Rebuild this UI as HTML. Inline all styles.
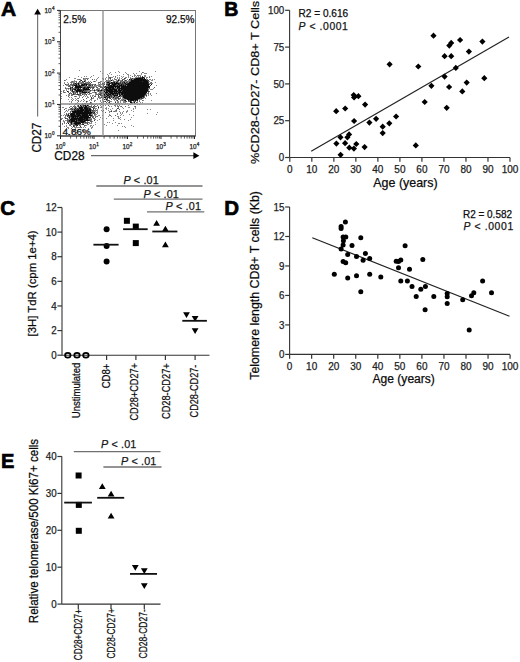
<!DOCTYPE html>
<html><head><meta charset="utf-8"><style>
html,body{margin:0;padding:0;background:#fff;overflow:hidden}
svg{display:block}
text{font-family:"Liberation Sans",sans-serif;stroke:#222;stroke-width:.25px}
text.lab{stroke:#000;stroke-width:.7px}
text.sm{stroke-width:.2px}
</style></head><body>
<svg width="520" height="662" viewBox="0 0 520 662" font-family="Liberation Sans, sans-serif">
<defs><filter id="bl" x="-5%" y="-5%" width="110%" height="110%"><feGaussianBlur stdDeviation="0.35"/></filter></defs>
<rect width="520" height="662" fill="#fff"/>
<text x="1.0" y="16.3" font-size="21" font-weight="bold" class="lab">A</text>
<text x="224.2" y="15.6" font-size="19.5" font-weight="bold" class="lab">B</text>
<text x="0.3" y="214.6" font-size="20.5" font-weight="bold" class="lab">C</text>
<text x="224.3" y="214.5" font-size="20.5" font-weight="bold" class="lab">D</text>
<text x="1.1" y="468.4" font-size="20" font-weight="bold" class="lab">E</text>
<path d="" fill="#d7d7d7" filter="url(#bl)"/>
<path d="" fill="#b0b0b0" filter="url(#bl)"/>
<path d="M79 70h1v1h-1zM100 71h1v1h-1zM118 71h1v1h-1zM139 71h1v1h-1zM155 71h1v1h-1zM110 72h1v1h-1zM115 72h1v1h-1zM119 72h1v1h-1zM125 72h1v1h-1zM143 72h1v1h-1zM102 73h1v1h-1zM109 73h1v1h-1zM126 73h1v1h-1zM133 73h1v1h-1zM136 73h1v1h-1zM141 73h1v1h-1zM144 73h3v1h-3zM107 74h1v1h-1zM111 74h1v1h-1zM123 74h1v1h-1zM127 74h2v1h-2zM134 74h1v1h-1zM141 74h1v1h-1zM93 75h1v1h-1zM108 75h1v1h-1zM117 75h1v1h-1zM119 75h1v1h-1zM128 75h1v1h-1zM130 75h1v1h-1zM134 75h2v1h-2zM138 75h3v1h-3zM144 75h2v1h-2zM78 76h1v1h-1zM84 76h1v1h-1zM86 76h1v1h-1zM91 76h1v1h-1zM108 76h1v1h-1zM113 76h1v1h-1zM121 76h1v1h-1zM123 76h1v1h-1zM128 76h1v1h-1zM134 76h1v1h-1zM136 76h1v1h-1zM138 76h1v1h-1zM144 76h2v1h-2zM149 76h1v1h-1zM151 76h1v1h-1zM69 77h1v1h-1zM81 77h1v1h-1zM90 77h1v1h-1zM98 77h1v1h-1zM106 77h1v1h-1zM108 77h1v1h-1zM111 77h2v1h-2zM115 77h1v1h-1zM117 77h1v1h-1zM119 77h1v1h-1zM122 77h1v1h-1zM125 77h2v1h-2zM128 77h1v1h-1zM130 77h1v1h-1zM135 77h3v1h-3zM146 77h2v1h-2zM74 78h2v1h-2zM84 78h2v1h-2zM87 78h2v1h-2zM97 78h1v1h-1zM102 78h2v1h-2zM105 78h1v1h-1zM108 78h2v1h-2zM114 78h1v1h-1zM117 78h1v1h-1zM119 78h1v1h-1zM121 78h1v1h-1zM131 78h1v1h-1zM133 78h1v1h-1zM146 78h1v1h-1zM66 79h1v1h-1zM77 79h2v1h-2zM80 79h1v1h-1zM83 79h3v1h-3zM94 79h1v1h-1zM96 79h1v1h-1zM105 79h1v1h-1zM108 79h1v1h-1zM110 79h1v1h-1zM112 79h1v1h-1zM114 79h1v1h-1zM116 79h1v1h-1zM119 79h1v1h-1zM124 79h1v1h-1zM127 79h1v1h-1zM132 79h1v1h-1zM146 79h1v1h-1zM149 79h2v1h-2zM152 79h1v1h-1zM154 79h1v1h-1zM65 80h1v1h-1zM74 80h1v1h-1zM84 80h1v1h-1zM96 80h1v1h-1zM107 80h4v1h-4zM112 80h2v1h-2zM116 80h2v1h-2zM119 80h3v1h-3zM124 80h1v1h-1zM128 80h2v1h-2zM151 80h2v1h-2zM71 81h1v1h-1zM73 81h3v1h-3zM80 81h1v1h-1zM83 81h1v1h-1zM85 81h1v1h-1zM88 81h1v1h-1zM90 81h1v1h-1zM93 81h1v1h-1zM95 81h1v1h-1zM100 81h2v1h-2zM105 81h3v1h-3zM110 81h1v1h-1zM115 81h2v1h-2zM118 81h1v1h-1zM122 81h1v1h-1zM125 81h2v1h-2zM128 81h1v1h-1zM149 81h1v1h-1zM64 82h1v1h-1zM67 82h1v1h-1zM70 82h1v1h-1zM72 82h3v1h-3zM78 82h4v1h-4zM85 82h2v1h-2zM88 82h1v1h-1zM100 82h1v1h-1zM110 82h1v1h-1zM115 82h1v1h-1zM118 82h2v1h-2zM121 82h1v1h-1zM125 82h1v1h-1zM128 82h1v1h-1zM150 82h1v1h-1zM155 82h1v1h-1zM64 83h1v1h-1zM68 83h1v1h-1zM71 83h1v1h-1zM79 83h2v1h-2zM82 83h1v1h-1zM87 83h1v1h-1zM89 83h1v1h-1zM98 83h1v1h-1zM100 83h1v1h-1zM104 83h1v1h-1zM106 83h1v1h-1zM149 83h1v1h-1zM151 83h2v1h-2zM66 84h2v1h-2zM72 84h1v1h-1zM77 84h1v1h-1zM79 84h1v1h-1zM91 84h1v1h-1zM93 84h2v1h-2zM98 84h1v1h-1zM100 84h2v1h-2zM63 85h1v1h-1zM66 85h3v1h-3zM70 85h2v1h-2zM91 85h1v1h-1zM95 85h6v1h-6zM106 85h1v1h-1zM126 85h1v1h-1zM156 85h1v1h-1zM70 86h1v1h-1zM72 86h2v1h-2zM83 86h1v1h-1zM86 86h1v1h-1zM90 86h7v1h-7zM98 86h1v1h-1zM101 86h1v1h-1zM104 86h1v1h-1zM65 87h1v1h-1zM74 87h1v1h-1zM94 87h1v1h-1zM103 87h1v1h-1zM114 87h1v1h-1zM116 87h1v1h-1zM120 87h1v1h-1zM66 88h2v1h-2zM69 88h1v1h-1zM71 88h1v1h-1zM79 88h1v1h-1zM82 88h1v1h-1zM97 88h3v1h-3zM148 88h1v1h-1zM153 88h1v1h-1zM66 89h1v1h-1zM68 89h1v1h-1zM71 89h1v1h-1zM76 89h1v1h-1zM92 89h1v1h-1zM94 89h1v1h-1zM98 89h2v1h-2zM103 89h1v1h-1zM117 89h1v1h-1zM150 89h3v1h-3zM63 90h2v1h-2zM66 90h1v1h-1zM71 90h1v1h-1zM74 90h1v1h-1zM88 90h2v1h-2zM91 90h3v1h-3zM95 90h2v1h-2zM148 90h1v1h-1zM61 91h1v1h-1zM71 91h1v1h-1zM75 91h1v1h-1zM87 91h2v1h-2zM90 91h1v1h-1zM94 91h1v1h-1zM97 91h1v1h-1zM99 91h1v1h-1zM101 91h1v1h-1zM103 91h1v1h-1zM105 91h1v1h-1zM63 92h1v1h-1zM65 92h1v1h-1zM70 92h1v1h-1zM72 92h1v1h-1zM74 92h1v1h-1zM87 92h1v1h-1zM92 92h3v1h-3zM96 92h1v1h-1zM99 92h1v1h-1zM101 92h2v1h-2zM104 92h1v1h-1zM108 92h1v1h-1zM61 93h1v1h-1zM70 93h1v1h-1zM74 93h1v1h-1zM79 93h1v1h-1zM81 93h3v1h-3zM87 93h1v1h-1zM91 93h1v1h-1zM95 93h2v1h-2zM98 93h2v1h-2zM102 93h1v1h-1zM104 93h1v1h-1zM146 93h2v1h-2zM150 93h1v1h-1zM156 93h1v1h-1zM68 94h2v1h-2zM71 94h1v1h-1zM75 94h1v1h-1zM83 94h3v1h-3zM88 94h2v1h-2zM95 94h1v1h-1zM98 94h1v1h-1zM101 94h1v1h-1zM105 94h1v1h-1zM118 94h1v1h-1zM146 94h1v1h-1zM148 94h1v1h-1zM150 94h1v1h-1zM66 95h1v1h-1zM68 95h2v1h-2zM72 95h1v1h-1zM78 95h2v1h-2zM81 95h1v1h-1zM84 95h1v1h-1zM86 95h1v1h-1zM90 95h1v1h-1zM92 95h2v1h-2zM95 95h1v1h-1zM103 95h1v1h-1zM106 95h1v1h-1zM112 95h1v1h-1zM121 95h1v1h-1zM145 95h1v1h-1zM148 95h1v1h-1zM151 95h1v1h-1zM61 96h1v1h-1zM74 96h1v1h-1zM76 96h1v1h-1zM79 96h1v1h-1zM83 96h1v1h-1zM85 96h1v1h-1zM87 96h1v1h-1zM90 96h1v1h-1zM92 96h1v1h-1zM99 96h1v1h-1zM101 96h3v1h-3zM112 96h2v1h-2zM115 96h1v1h-1zM117 96h1v1h-1zM120 96h1v1h-1zM146 96h1v1h-1zM69 97h1v1h-1zM71 97h1v1h-1zM79 97h1v1h-1zM87 97h2v1h-2zM93 97h1v1h-1zM99 97h2v1h-2zM102 97h2v1h-2zM106 97h1v1h-1zM110 97h1v1h-1zM112 97h1v1h-1zM114 97h1v1h-1zM120 97h1v1h-1zM122 97h1v1h-1zM61 98h1v1h-1zM72 98h1v1h-1zM75 98h1v1h-1zM77 98h1v1h-1zM92 98h2v1h-2zM97 98h1v1h-1zM99 98h2v1h-2zM102 98h2v1h-2zM106 98h1v1h-1zM112 98h3v1h-3zM117 98h1v1h-1zM122 98h2v1h-2zM143 98h1v1h-1zM145 98h1v1h-1zM68 99h1v1h-1zM71 99h1v1h-1zM73 99h1v1h-1zM76 99h1v1h-1zM90 99h2v1h-2zM97 99h1v1h-1zM102 99h1v1h-1zM105 99h1v1h-1zM113 99h4v1h-4zM119 99h1v1h-1zM121 99h2v1h-2zM124 99h3v1h-3zM138 99h4v1h-4zM75 100h1v1h-1zM77 100h2v1h-2zM81 100h1v1h-1zM84 100h1v1h-1zM89 100h1v1h-1zM91 100h1v1h-1zM94 100h2v1h-2zM100 100h1v1h-1zM102 100h1v1h-1zM106 100h1v1h-1zM114 100h1v1h-1zM116 100h1v1h-1zM120 100h2v1h-2zM123 100h1v1h-1zM139 100h1v1h-1zM143 100h1v1h-1zM151 100h1v1h-1zM69 101h1v1h-1zM71 101h1v1h-1zM80 101h1v1h-1zM83 101h1v1h-1zM87 101h1v1h-1zM100 101h1v1h-1zM104 101h1v1h-1zM107 101h1v1h-1zM110 101h2v1h-2zM115 101h1v1h-1zM117 101h2v1h-2zM120 101h1v1h-1zM123 101h2v1h-2zM133 101h1v1h-1zM137 101h1v1h-1zM71 102h1v1h-1zM77 102h1v1h-1zM86 102h1v1h-1zM91 102h1v1h-1zM101 102h1v1h-1zM103 102h1v1h-1zM108 102h1v1h-1zM117 102h2v1h-2zM120 102h1v1h-1zM123 102h3v1h-3zM132 102h2v1h-2zM137 102h1v1h-1zM140 102h1v1h-1zM142 102h1v1h-1zM75 103h2v1h-2zM78 103h1v1h-1zM88 103h1v1h-1zM92 103h1v1h-1zM96 103h1v1h-1zM99 103h2v1h-2zM102 103h2v1h-2zM107 103h1v1h-1zM109 103h1v1h-1zM111 103h1v1h-1zM113 103h1v1h-1zM116 103h4v1h-4zM121 103h1v1h-1zM125 103h1v1h-1zM127 103h1v1h-1zM132 103h1v1h-1zM134 103h2v1h-2zM69 104h1v1h-1zM75 104h1v1h-1zM79 104h1v1h-1zM81 104h1v1h-1zM85 104h1v1h-1zM87 104h7v1h-7zM110 104h1v1h-1zM112 104h1v1h-1zM115 104h2v1h-2zM119 104h1v1h-1zM122 104h1v1h-1zM124 104h1v1h-1zM129 104h2v1h-2zM137 104h1v1h-1zM74 105h1v1h-1zM77 105h1v1h-1zM81 105h2v1h-2zM86 105h1v1h-1zM91 105h1v1h-1zM100 105h1v1h-1zM103 105h1v1h-1zM105 105h1v1h-1zM114 105h2v1h-2zM117 105h1v1h-1zM119 105h1v1h-1zM128 105h1v1h-1zM70 106h2v1h-2zM74 106h1v1h-1zM77 106h1v1h-1zM79 106h1v1h-1zM82 106h1v1h-1zM84 106h1v1h-1zM87 106h1v1h-1zM94 106h1v1h-1zM96 106h1v1h-1zM98 106h1v1h-1zM101 106h1v1h-1zM109 106h1v1h-1zM111 106h1v1h-1zM115 106h1v1h-1zM117 106h1v1h-1zM120 106h1v1h-1zM134 106h1v1h-1zM62 107h2v1h-2zM76 107h1v1h-1zM78 107h1v1h-1zM89 107h3v1h-3zM93 107h1v1h-1zM100 107h2v1h-2zM106 107h1v1h-1zM118 107h1v1h-1zM122 107h1v1h-1zM128 107h2v1h-2zM135 107h1v1h-1zM65 108h2v1h-2zM70 108h1v1h-1zM72 108h3v1h-3zM76 108h1v1h-1zM83 108h1v1h-1zM94 108h3v1h-3zM98 108h1v1h-1zM105 108h2v1h-2zM108 108h1v1h-1zM112 108h1v1h-1zM123 108h1v1h-1zM133 108h1v1h-1zM135 108h1v1h-1zM68 109h2v1h-2zM73 109h1v1h-1zM91 109h1v1h-1zM95 109h1v1h-1zM97 109h1v1h-1zM106 109h1v1h-1zM110 109h1v1h-1zM116 109h1v1h-1zM133 109h1v1h-1zM147 109h1v1h-1zM150 109h1v1h-1zM68 110h1v1h-1zM71 110h3v1h-3zM95 110h1v1h-1zM97 110h1v1h-1zM101 110h1v1h-1zM108 110h1v1h-1zM111 110h1v1h-1zM115 110h1v1h-1zM127 110h1v1h-1zM131 110h1v1h-1zM65 111h1v1h-1zM67 111h1v1h-1zM71 111h1v1h-1zM91 111h1v1h-1zM94 111h2v1h-2zM97 111h1v1h-1zM109 111h2v1h-2zM113 111h1v1h-1zM115 111h2v1h-2zM119 111h1v1h-1zM123 111h1v1h-1zM126 111h2v1h-2zM133 111h1v1h-1zM64 112h1v1h-1zM96 112h2v1h-2zM109 112h1v1h-1zM120 112h1v1h-1zM122 112h1v1h-1zM126 112h1v1h-1zM157 112h1v1h-1zM69 113h1v1h-1zM92 113h1v1h-1zM95 113h1v1h-1zM97 113h1v1h-1zM117 113h1v1h-1zM120 113h1v1h-1zM122 113h1v1h-1zM147 113h1v1h-1zM64 114h1v1h-1zM67 114h1v1h-1zM88 114h1v1h-1zM91 114h2v1h-2zM95 114h2v1h-2zM109 114h1v1h-1zM117 114h1v1h-1zM121 114h1v1h-1zM129 114h1v1h-1zM156 114h1v1h-1zM61 115h1v1h-1zM63 115h1v1h-1zM66 115h1v1h-1zM94 115h2v1h-2zM98 115h2v1h-2zM102 115h1v1h-1zM109 115h1v1h-1zM120 115h1v1h-1zM123 115h1v1h-1zM133 115h1v1h-1zM65 116h1v1h-1zM68 116h1v1h-1zM91 116h1v1h-1zM95 116h2v1h-2zM108 116h1v1h-1zM111 116h1v1h-1zM117 116h2v1h-2zM64 117h2v1h-2zM68 117h1v1h-1zM70 117h1v1h-1zM93 117h1v1h-1zM100 117h1v1h-1zM118 117h1v1h-1zM120 117h1v1h-1zM131 117h1v1h-1zM61 118h2v1h-2zM70 118h1v1h-1zM90 118h2v1h-2zM102 118h1v1h-1zM106 118h1v1h-1zM113 118h1v1h-1zM118 118h2v1h-2zM68 119h2v1h-2zM94 119h2v1h-2zM99 119h1v1h-1zM120 119h1v1h-1zM124 119h1v1h-1zM130 119h1v1h-1zM63 120h1v1h-1zM65 120h2v1h-2zM91 120h1v1h-1zM97 120h1v1h-1zM113 120h1v1h-1zM128 120h1v1h-1zM63 121h2v1h-2zM87 121h1v1h-1zM92 121h1v1h-1zM68 122h2v1h-2zM73 122h1v1h-1zM89 122h1v1h-1zM91 122h1v1h-1zM95 122h1v1h-1zM107 122h1v1h-1zM109 122h1v1h-1zM115 122h1v1h-1zM64 123h1v1h-1zM70 123h1v1h-1zM72 123h1v1h-1zM83 123h4v1h-4zM89 123h3v1h-3zM112 123h1v1h-1zM118 123h2v1h-2zM121 123h1v1h-1zM62 124h1v1h-1zM69 124h2v1h-2zM72 124h2v1h-2zM80 124h2v1h-2zM87 124h2v1h-2zM95 124h1v1h-1zM104 124h1v1h-1zM66 125h1v1h-1zM69 125h1v1h-1zM75 125h1v1h-1zM80 125h1v1h-1zM86 125h1v1h-1zM90 125h2v1h-2zM93 125h1v1h-1zM106 125h1v1h-1zM117 125h1v1h-1zM131 125h1v1h-1zM64 126h1v1h-1zM66 126h1v1h-1zM71 126h1v1h-1zM84 126h1v1h-1zM90 126h1v1h-1zM92 126h1v1h-1zM122 126h1v1h-1zM124 126h1v1h-1zM133 126h1v1h-1zM67 127h2v1h-2zM72 127h1v1h-1zM74 127h7v1h-7zM83 127h1v1h-1zM85 127h1v1h-1zM91 127h2v1h-2zM125 127h1v1h-1zM68 128h1v1h-1zM75 128h1v1h-1zM88 128h1v1h-1zM91 128h1v1h-1zM72 129h1v1h-1zM74 129h2v1h-2zM78 129h1v1h-1zM72 130h3v1h-3zM77 130h1v1h-1zM82 130h2v1h-2zM86 130h1v1h-1zM118 130h1v1h-1zM71 131h1v1h-1zM77 131h1v1h-1zM83 131h1v1h-1zM88 131h1v1h-1zM76 132h1v1h-1zM72 133h1v1h-1zM68 134h1v1h-1zM76 134h1v1h-1z" fill="#888888" filter="url(#bl)"/>
<path d="M142 72h1v1h-1zM137 75h1v1h-1zM115 76h1v1h-1zM132 76h1v1h-1zM140 76h1v1h-1zM109 77h2v1h-2zM138 77h2v1h-2zM141 77h1v1h-1zM144 77h1v1h-1zM149 77h1v1h-1zM83 78h1v1h-1zM86 78h1v1h-1zM125 78h1v1h-1zM130 78h1v1h-1zM134 78h1v1h-1zM143 78h1v1h-1zM79 79h1v1h-1zM87 79h1v1h-1zM92 79h1v1h-1zM103 79h1v1h-1zM115 79h1v1h-1zM118 79h1v1h-1zM122 79h2v1h-2zM130 79h1v1h-1zM133 79h1v1h-1zM147 79h1v1h-1zM64 80h1v1h-1zM80 80h1v1h-1zM85 80h1v1h-1zM106 80h1v1h-1zM126 80h1v1h-1zM130 80h1v1h-1zM72 81h1v1h-1zM76 81h1v1h-1zM94 81h1v1h-1zM108 81h2v1h-2zM113 81h2v1h-2zM120 81h2v1h-2zM123 81h2v1h-2zM127 81h1v1h-1zM129 81h1v1h-1zM148 81h1v1h-1zM71 82h1v1h-1zM76 82h1v1h-1zM82 82h2v1h-2zM87 82h1v1h-1zM89 82h1v1h-1zM98 82h2v1h-2zM104 82h1v1h-1zM106 82h1v1h-1zM109 82h1v1h-1zM123 82h1v1h-1zM127 82h1v1h-1zM151 82h1v1h-1zM73 83h2v1h-2zM76 83h2v1h-2zM81 83h1v1h-1zM83 83h1v1h-1zM86 83h1v1h-1zM88 83h1v1h-1zM90 83h1v1h-1zM107 83h2v1h-2zM121 83h1v1h-1zM123 83h1v1h-1zM126 83h1v1h-1zM150 83h1v1h-1zM68 84h1v1h-1zM70 84h2v1h-2zM74 84h2v1h-2zM88 84h1v1h-1zM90 84h1v1h-1zM92 84h1v1h-1zM99 84h1v1h-1zM102 84h3v1h-3zM111 84h1v1h-1zM117 84h1v1h-1zM120 84h1v1h-1zM124 84h1v1h-1zM149 84h1v1h-1zM69 85h1v1h-1zM73 85h1v1h-1zM77 85h1v1h-1zM80 85h1v1h-1zM85 85h1v1h-1zM88 85h1v1h-1zM94 85h1v1h-1zM107 85h1v1h-1zM116 85h1v1h-1zM118 85h1v1h-1zM68 86h2v1h-2zM81 86h2v1h-2zM84 86h2v1h-2zM87 86h3v1h-3zM99 86h2v1h-2zM106 86h2v1h-2zM120 86h1v1h-1zM71 87h1v1h-1zM82 87h1v1h-1zM86 87h1v1h-1zM90 87h3v1h-3zM96 87h2v1h-2zM100 87h2v1h-2zM105 87h1v1h-1zM154 87h1v1h-1zM65 88h1v1h-1zM68 88h1v1h-1zM72 88h3v1h-3zM90 88h1v1h-1zM92 88h2v1h-2zM107 88h1v1h-1zM115 88h2v1h-2zM149 88h1v1h-1zM73 89h1v1h-1zM82 89h1v1h-1zM96 89h2v1h-2zM101 89h1v1h-1zM120 89h1v1h-1zM148 89h1v1h-1zM70 90h1v1h-1zM84 90h1v1h-1zM86 90h2v1h-2zM97 90h1v1h-1zM99 90h1v1h-1zM104 90h2v1h-2zM113 90h1v1h-1zM117 90h1v1h-1zM63 91h1v1h-1zM68 91h1v1h-1zM74 91h1v1h-1zM83 91h1v1h-1zM85 91h2v1h-2zM89 91h1v1h-1zM98 91h1v1h-1zM100 91h1v1h-1zM121 91h1v1h-1zM149 91h1v1h-1zM64 92h1v1h-1zM68 92h1v1h-1zM75 92h2v1h-2zM79 92h3v1h-3zM89 92h1v1h-1zM100 92h1v1h-1zM103 92h1v1h-1zM113 92h1v1h-1zM117 92h1v1h-1zM148 92h1v1h-1zM71 93h1v1h-1zM75 93h1v1h-1zM77 93h1v1h-1zM84 93h2v1h-2zM89 93h2v1h-2zM100 93h2v1h-2zM103 93h1v1h-1zM107 93h1v1h-1zM109 93h1v1h-1zM120 93h1v1h-1zM148 93h1v1h-1zM72 94h1v1h-1zM74 94h1v1h-1zM76 94h1v1h-1zM79 94h2v1h-2zM96 94h2v1h-2zM103 94h1v1h-1zM111 94h1v1h-1zM114 94h1v1h-1zM116 94h1v1h-1zM120 94h1v1h-1zM71 95h1v1h-1zM80 95h1v1h-1zM100 95h2v1h-2zM105 95h1v1h-1zM109 95h1v1h-1zM68 96h1v1h-1zM75 96h1v1h-1zM94 96h2v1h-2zM98 96h1v1h-1zM104 96h2v1h-2zM107 96h2v1h-2zM110 96h1v1h-1zM116 96h1v1h-1zM121 96h2v1h-2zM144 96h1v1h-1zM82 97h1v1h-1zM98 97h1v1h-1zM101 97h1v1h-1zM111 97h1v1h-1zM115 97h2v1h-2zM118 97h1v1h-1zM142 97h1v1h-1zM144 97h1v1h-1zM78 98h1v1h-1zM86 98h1v1h-1zM105 98h1v1h-1zM109 98h1v1h-1zM116 98h1v1h-1zM119 98h2v1h-2zM140 98h1v1h-1zM83 99h1v1h-1zM107 99h1v1h-1zM111 99h1v1h-1zM118 99h1v1h-1zM123 99h1v1h-1zM72 100h1v1h-1zM107 100h1v1h-1zM109 100h1v1h-1zM122 100h1v1h-1zM129 100h1v1h-1zM134 100h1v1h-1zM136 100h1v1h-1zM142 100h1v1h-1zM78 101h1v1h-1zM94 101h1v1h-1zM109 101h1v1h-1zM125 101h1v1h-1zM128 101h2v1h-2zM131 101h1v1h-1zM134 101h2v1h-2zM139 101h1v1h-1zM106 102h1v1h-1zM136 102h1v1h-1zM82 103h1v1h-1zM85 103h1v1h-1zM87 103h1v1h-1zM89 103h3v1h-3zM110 103h1v1h-1zM131 103h1v1h-1zM83 104h1v1h-1zM95 104h1v1h-1zM101 104h1v1h-1zM139 104h1v1h-1zM88 105h1v1h-1zM94 105h1v1h-1zM97 105h1v1h-1zM108 105h1v1h-1zM73 106h1v1h-1zM75 106h1v1h-1zM80 106h1v1h-1zM88 106h1v1h-1zM90 106h2v1h-2zM95 106h1v1h-1zM118 106h1v1h-1zM121 106h1v1h-1zM125 106h1v1h-1zM135 106h1v1h-1zM69 107h1v1h-1zM72 107h1v1h-1zM74 107h2v1h-2zM83 107h1v1h-1zM94 107h1v1h-1zM78 108h1v1h-1zM118 108h1v1h-1zM64 109h1v1h-1zM70 109h2v1h-2zM75 109h1v1h-1zM79 109h1v1h-1zM119 109h1v1h-1zM66 110h1v1h-1zM91 110h1v1h-1zM93 110h2v1h-2zM96 110h1v1h-1zM103 110h1v1h-1zM116 110h1v1h-1zM70 111h1v1h-1zM83 111h1v1h-1zM92 111h2v1h-2zM102 111h1v1h-1zM114 111h1v1h-1zM70 112h1v1h-1zM93 112h1v1h-1zM105 112h1v1h-1zM66 113h1v1h-1zM68 113h1v1h-1zM70 113h1v1h-1zM75 113h1v1h-1zM94 113h1v1h-1zM66 114h1v1h-1zM75 114h1v1h-1zM94 114h1v1h-1zM65 115h1v1h-1zM67 115h1v1h-1zM69 115h1v1h-1zM92 115h1v1h-1zM110 115h1v1h-1zM115 115h1v1h-1zM90 116h1v1h-1zM92 116h2v1h-2zM97 116h1v1h-1zM76 117h1v1h-1zM78 117h1v1h-1zM92 117h1v1h-1zM95 117h1v1h-1zM66 118h2v1h-2zM88 118h2v1h-2zM93 118h2v1h-2zM61 119h1v1h-1zM67 119h1v1h-1zM88 119h4v1h-4zM67 120h2v1h-2zM75 120h1v1h-1zM90 120h1v1h-1zM67 121h2v1h-2zM77 121h1v1h-1zM85 121h1v1h-1zM90 121h2v1h-2zM64 122h1v1h-1zM67 122h1v1h-1zM72 122h1v1h-1zM84 122h1v1h-1zM86 122h3v1h-3zM62 123h1v1h-1zM66 123h1v1h-1zM73 123h1v1h-1zM82 123h1v1h-1zM74 124h1v1h-1zM79 124h1v1h-1zM70 125h1v1h-1zM74 125h1v1h-1zM79 125h1v1h-1zM84 125h2v1h-2zM74 126h1v1h-1zM76 126h1v1h-1zM81 127h1v1h-1zM66 128h1v1h-1zM71 128h1v1h-1z" fill="#606060" filter="url(#bl)"/>
<path d="M142 76h1v1h-1zM140 77h1v1h-1zM110 78h1v1h-1zM124 78h1v1h-1zM132 78h1v1h-1zM135 78h1v1h-1zM122 80h1v1h-1zM125 80h1v1h-1zM147 80h2v1h-2zM79 81h1v1h-1zM82 81h1v1h-1zM117 81h1v1h-1zM130 81h1v1h-1zM142 81h1v1h-1zM91 82h1v1h-1zM112 82h2v1h-2zM117 82h1v1h-1zM120 82h1v1h-1zM122 82h1v1h-1zM126 82h1v1h-1zM148 82h1v1h-1zM84 83h2v1h-2zM103 83h1v1h-1zM110 83h2v1h-2zM113 83h1v1h-1zM119 83h2v1h-2zM122 83h1v1h-1zM124 83h1v1h-1zM127 83h1v1h-1zM148 83h1v1h-1zM65 84h1v1h-1zM73 84h1v1h-1zM81 84h1v1h-1zM83 84h1v1h-1zM85 84h1v1h-1zM87 84h1v1h-1zM89 84h1v1h-1zM95 84h1v1h-1zM106 84h2v1h-2zM116 84h1v1h-1zM119 84h1v1h-1zM122 84h2v1h-2zM125 84h1v1h-1zM72 85h1v1h-1zM78 85h1v1h-1zM84 85h1v1h-1zM89 85h2v1h-2zM92 85h1v1h-1zM109 85h1v1h-1zM112 85h1v1h-1zM115 85h1v1h-1zM122 85h1v1h-1zM124 85h1v1h-1zM150 85h1v1h-1zM108 86h1v1h-1zM70 87h1v1h-1zM83 87h1v1h-1zM85 87h1v1h-1zM93 87h1v1h-1zM104 87h1v1h-1zM149 87h1v1h-1zM75 88h3v1h-3zM80 88h1v1h-1zM85 88h1v1h-1zM87 88h1v1h-1zM105 88h1v1h-1zM111 88h1v1h-1zM114 88h1v1h-1zM118 88h1v1h-1zM70 89h1v1h-1zM72 89h1v1h-1zM80 89h2v1h-2zM102 89h1v1h-1zM104 89h2v1h-2zM108 89h1v1h-1zM75 90h1v1h-1zM82 90h1v1h-1zM85 90h1v1h-1zM90 90h1v1h-1zM100 90h1v1h-1zM122 90h1v1h-1zM72 91h2v1h-2zM78 91h1v1h-1zM81 91h1v1h-1zM84 91h1v1h-1zM107 91h1v1h-1zM118 91h1v1h-1zM147 91h2v1h-2zM73 92h1v1h-1zM77 92h1v1h-1zM95 92h1v1h-1zM115 92h1v1h-1zM69 93h1v1h-1zM73 93h1v1h-1zM80 93h1v1h-1zM105 93h2v1h-2zM118 93h1v1h-1zM73 94h1v1h-1zM77 94h2v1h-2zM82 94h1v1h-1zM86 94h1v1h-1zM99 94h2v1h-2zM107 94h2v1h-2zM115 94h1v1h-1zM123 94h1v1h-1zM145 94h1v1h-1zM98 95h1v1h-1zM102 95h1v1h-1zM104 95h1v1h-1zM110 95h2v1h-2zM113 95h1v1h-1zM119 95h1v1h-1zM122 95h1v1h-1zM144 95h1v1h-1zM146 95h1v1h-1zM111 96h1v1h-1zM118 96h1v1h-1zM91 97h1v1h-1zM107 97h2v1h-2zM117 97h1v1h-1zM143 97h1v1h-1zM91 98h1v1h-1zM107 98h1v1h-1zM110 98h1v1h-1zM115 98h1v1h-1zM118 98h1v1h-1zM124 98h1v1h-1zM141 98h2v1h-2zM104 99h1v1h-1zM108 100h1v1h-1zM117 100h1v1h-1zM124 100h1v1h-1zM86 101h1v1h-1zM103 101h1v1h-1zM105 101h1v1h-1zM126 101h1v1h-1zM90 102h1v1h-1zM109 102h1v1h-1zM115 102h1v1h-1zM84 103h1v1h-1zM82 104h1v1h-1zM78 105h1v1h-1zM83 105h2v1h-2zM78 106h1v1h-1zM83 106h1v1h-1zM89 106h1v1h-1zM93 106h1v1h-1zM87 107h2v1h-2zM92 107h1v1h-1zM71 108h1v1h-1zM77 108h1v1h-1zM88 108h1v1h-1zM90 108h1v1h-1zM93 108h1v1h-1zM117 108h1v1h-1zM72 109h1v1h-1zM76 109h2v1h-2zM84 109h1v1h-1zM88 109h1v1h-1zM93 109h1v1h-1zM74 110h1v1h-1zM76 110h1v1h-1zM84 110h1v1h-1zM92 110h1v1h-1zM89 111h1v1h-1zM111 111h1v1h-1zM72 112h1v1h-1zM92 112h1v1h-1zM91 113h1v1h-1zM93 113h1v1h-1zM68 114h1v1h-1zM80 114h2v1h-2zM90 114h1v1h-1zM70 115h1v1h-1zM76 115h1v1h-1zM81 115h1v1h-1zM88 115h1v1h-1zM67 116h1v1h-1zM69 116h2v1h-2zM79 116h1v1h-1zM71 117h1v1h-1zM74 117h1v1h-1zM90 117h1v1h-1zM65 118h1v1h-1zM69 118h1v1h-1zM83 118h1v1h-1zM77 119h1v1h-1zM85 119h1v1h-1zM70 120h1v1h-1zM77 120h1v1h-1zM83 120h1v1h-1zM89 120h1v1h-1zM94 120h1v1h-1zM69 121h2v1h-2zM78 121h2v1h-2zM70 122h1v1h-1zM74 122h1v1h-1zM80 122h1v1h-1zM85 122h1v1h-1zM87 123h1v1h-1zM71 124h1v1h-1zM77 124h2v1h-2zM82 124h1v1h-1zM73 125h1v1h-1zM76 125h1v1h-1zM73 126h1v1h-1zM80 126h1v1h-1z" fill="#393939" filter="url(#bl)"/>
<path d="M142 77h2v1h-2zM136 78h7v1h-7zM144 78h1v1h-1zM129 79h1v1h-1zM131 79h1v1h-1zM134 79h12v1h-12zM81 80h1v1h-1zM111 80h1v1h-1zM118 80h1v1h-1zM131 80h16v1h-16zM84 81h1v1h-1zM131 81h11v1h-11zM143 81h5v1h-5zM107 82h2v1h-2zM111 82h1v1h-1zM114 82h1v1h-1zM116 82h1v1h-1zM124 82h1v1h-1zM129 82h19v1h-19zM75 83h1v1h-1zM78 83h1v1h-1zM102 83h1v1h-1zM109 83h1v1h-1zM112 83h1v1h-1zM114 83h5v1h-5zM125 83h1v1h-1zM128 83h20v1h-20zM76 84h1v1h-1zM78 84h1v1h-1zM82 84h1v1h-1zM84 84h1v1h-1zM86 84h1v1h-1zM108 84h2v1h-2zM112 84h4v1h-4zM118 84h1v1h-1zM121 84h1v1h-1zM126 84h23v1h-23zM151 84h1v1h-1zM74 85h3v1h-3zM79 85h1v1h-1zM81 85h3v1h-3zM86 85h1v1h-1zM103 85h1v1h-1zM108 85h1v1h-1zM110 85h2v1h-2zM113 85h2v1h-2zM117 85h1v1h-1zM119 85h3v1h-3zM123 85h1v1h-1zM125 85h1v1h-1zM127 85h22v1h-22zM75 86h6v1h-6zM103 86h1v1h-1zM105 86h1v1h-1zM109 86h11v1h-11zM121 86h29v1h-29zM72 87h1v1h-1zM75 87h7v1h-7zM84 87h1v1h-1zM87 87h3v1h-3zM102 87h1v1h-1zM106 87h8v1h-8zM115 87h1v1h-1zM117 87h3v1h-3zM121 87h28v1h-28zM70 88h1v1h-1zM78 88h1v1h-1zM83 88h2v1h-2zM86 88h1v1h-1zM88 88h1v1h-1zM102 88h2v1h-2zM106 88h1v1h-1zM108 88h3v1h-3zM112 88h2v1h-2zM117 88h1v1h-1zM119 88h29v1h-29zM74 89h2v1h-2zM77 89h3v1h-3zM83 89h7v1h-7zM106 89h2v1h-2zM109 89h8v1h-8zM118 89h2v1h-2zM121 89h27v1h-27zM72 90h1v1h-1zM76 90h6v1h-6zM83 90h1v1h-1zM94 90h1v1h-1zM98 90h1v1h-1zM101 90h3v1h-3zM106 90h7v1h-7zM114 90h3v1h-3zM118 90h4v1h-4zM123 90h25v1h-25zM67 91h1v1h-1zM76 91h2v1h-2zM79 91h2v1h-2zM82 91h1v1h-1zM104 91h1v1h-1zM106 91h1v1h-1zM108 91h10v1h-10zM119 91h2v1h-2zM122 91h25v1h-25zM82 92h5v1h-5zM88 92h1v1h-1zM105 92h3v1h-3zM109 92h4v1h-4zM114 92h1v1h-1zM116 92h1v1h-1zM118 92h29v1h-29zM108 93h1v1h-1zM110 93h8v1h-8zM119 93h1v1h-1zM121 93h25v1h-25zM104 94h1v1h-1zM106 94h1v1h-1zM109 94h2v1h-2zM112 94h2v1h-2zM117 94h1v1h-1zM119 94h1v1h-1zM121 94h2v1h-2zM124 94h21v1h-21zM107 95h2v1h-2zM114 95h4v1h-4zM120 95h1v1h-1zM123 95h21v1h-21zM106 96h1v1h-1zM109 96h1v1h-1zM114 96h1v1h-1zM119 96h1v1h-1zM123 96h21v1h-21zM104 97h2v1h-2zM109 97h1v1h-1zM113 97h1v1h-1zM123 97h19v1h-19zM125 98h15v1h-15zM106 99h1v1h-1zM127 99h11v1h-11zM125 100h1v1h-1zM128 100h1v1h-1zM130 100h4v1h-4zM135 100h1v1h-1zM137 100h1v1h-1zM130 101h1v1h-1zM130 102h2v1h-2zM134 102h1v1h-1zM80 105h1v1h-1zM85 105h1v1h-1zM87 105h1v1h-1zM81 106h1v1h-1zM85 106h2v1h-2zM79 107h4v1h-4zM84 107h3v1h-3zM98 107h1v1h-1zM75 108h1v1h-1zM79 108h4v1h-4zM84 108h4v1h-4zM89 108h1v1h-1zM74 109h1v1h-1zM78 109h1v1h-1zM80 109h4v1h-4zM85 109h3v1h-3zM89 109h2v1h-2zM75 110h1v1h-1zM77 110h7v1h-7zM85 110h6v1h-6zM72 111h11v1h-11zM84 111h5v1h-5zM90 111h1v1h-1zM73 112h19v1h-19zM94 112h1v1h-1zM71 113h4v1h-4zM76 113h15v1h-15zM70 114h5v1h-5zM76 114h4v1h-4zM82 114h6v1h-6zM89 114h1v1h-1zM68 115h1v1h-1zM71 115h5v1h-5zM77 115h4v1h-4zM82 115h6v1h-6zM89 115h3v1h-3zM71 116h8v1h-8zM80 116h9v1h-9zM69 117h1v1h-1zM72 117h2v1h-2zM75 117h1v1h-1zM77 117h1v1h-1zM79 117h11v1h-11zM71 118h12v1h-12zM84 118h4v1h-4zM70 119h7v1h-7zM78 119h7v1h-7zM86 119h2v1h-2zM69 120h1v1h-1zM71 120h4v1h-4zM76 120h1v1h-1zM78 120h5v1h-5zM84 120h5v1h-5zM71 121h6v1h-6zM80 121h5v1h-5zM71 122h1v1h-1zM75 122h5v1h-5zM81 122h3v1h-3zM68 123h1v1h-1zM71 123h1v1h-1zM74 123h7v1h-7zM75 124h2v1h-2zM83 124h1v1h-1zM77 125h1v1h-1z" fill="#111111" filter="url(#bl)"/>
<rect x="60.5" y="10.5" width="135.0" height="125.5" fill="none" stroke="#777" stroke-width="1"/>
<line x1="60.50" y1="136.00" x2="195.50" y2="136.00" stroke="#222" stroke-width="1.2"/>
<line x1="60.50" y1="10.50" x2="60.50" y2="136.00" stroke="#444" stroke-width="1.0"/>
<line x1="103.00" y1="10.50" x2="103.00" y2="136.00" stroke="#8c8c8c" stroke-width="1.3"/>
<line x1="60.50" y1="104.00" x2="195.50" y2="104.00" stroke="#8c8c8c" stroke-width="1.3"/>
<line x1="60.50" y1="136.00" x2="60.50" y2="139.00" stroke="#222" stroke-width="1"/>
<line x1="57.00" y1="135.80" x2="60.50" y2="135.80" stroke="#222" stroke-width="1"/>
<line x1="70.58" y1="136.00" x2="70.58" y2="138.60" stroke="#333" stroke-width="0.8"/>
<line x1="58.50" y1="126.36" x2="60.50" y2="126.36" stroke="#333" stroke-width="0.8"/>
<line x1="76.48" y1="136.00" x2="76.48" y2="138.60" stroke="#333" stroke-width="0.8"/>
<line x1="58.50" y1="120.84" x2="60.50" y2="120.84" stroke="#333" stroke-width="0.8"/>
<line x1="80.67" y1="136.00" x2="80.67" y2="138.60" stroke="#333" stroke-width="0.8"/>
<line x1="58.50" y1="116.93" x2="60.50" y2="116.93" stroke="#333" stroke-width="0.8"/>
<line x1="83.92" y1="136.00" x2="83.92" y2="138.60" stroke="#333" stroke-width="0.8"/>
<line x1="58.50" y1="113.89" x2="60.50" y2="113.89" stroke="#333" stroke-width="0.8"/>
<line x1="86.57" y1="136.00" x2="86.57" y2="138.60" stroke="#333" stroke-width="0.8"/>
<line x1="58.50" y1="111.40" x2="60.50" y2="111.40" stroke="#333" stroke-width="0.8"/>
<line x1="88.81" y1="136.00" x2="88.81" y2="138.60" stroke="#333" stroke-width="0.8"/>
<line x1="58.50" y1="109.31" x2="60.50" y2="109.31" stroke="#333" stroke-width="0.8"/>
<line x1="90.75" y1="136.00" x2="90.75" y2="138.60" stroke="#333" stroke-width="0.8"/>
<line x1="58.50" y1="107.49" x2="60.50" y2="107.49" stroke="#333" stroke-width="0.8"/>
<line x1="92.47" y1="136.00" x2="92.47" y2="138.60" stroke="#333" stroke-width="0.8"/>
<line x1="58.50" y1="105.88" x2="60.50" y2="105.88" stroke="#333" stroke-width="0.8"/>
<line x1="94.00" y1="136.00" x2="94.00" y2="139.00" stroke="#222" stroke-width="1"/>
<line x1="57.00" y1="104.45" x2="60.50" y2="104.45" stroke="#222" stroke-width="1"/>
<line x1="104.08" y1="136.00" x2="104.08" y2="138.60" stroke="#333" stroke-width="0.8"/>
<line x1="58.50" y1="95.01" x2="60.50" y2="95.01" stroke="#333" stroke-width="0.8"/>
<line x1="109.98" y1="136.00" x2="109.98" y2="138.60" stroke="#333" stroke-width="0.8"/>
<line x1="58.50" y1="89.49" x2="60.50" y2="89.49" stroke="#333" stroke-width="0.8"/>
<line x1="114.17" y1="136.00" x2="114.17" y2="138.60" stroke="#333" stroke-width="0.8"/>
<line x1="58.50" y1="85.58" x2="60.50" y2="85.58" stroke="#333" stroke-width="0.8"/>
<line x1="117.42" y1="136.00" x2="117.42" y2="138.60" stroke="#333" stroke-width="0.8"/>
<line x1="58.50" y1="82.54" x2="60.50" y2="82.54" stroke="#333" stroke-width="0.8"/>
<line x1="120.07" y1="136.00" x2="120.07" y2="138.60" stroke="#333" stroke-width="0.8"/>
<line x1="58.50" y1="80.05" x2="60.50" y2="80.05" stroke="#333" stroke-width="0.8"/>
<line x1="122.31" y1="136.00" x2="122.31" y2="138.60" stroke="#333" stroke-width="0.8"/>
<line x1="58.50" y1="77.96" x2="60.50" y2="77.96" stroke="#333" stroke-width="0.8"/>
<line x1="124.25" y1="136.00" x2="124.25" y2="138.60" stroke="#333" stroke-width="0.8"/>
<line x1="58.50" y1="76.14" x2="60.50" y2="76.14" stroke="#333" stroke-width="0.8"/>
<line x1="125.97" y1="136.00" x2="125.97" y2="138.60" stroke="#333" stroke-width="0.8"/>
<line x1="58.50" y1="74.53" x2="60.50" y2="74.53" stroke="#333" stroke-width="0.8"/>
<line x1="127.50" y1="136.00" x2="127.50" y2="139.00" stroke="#222" stroke-width="1"/>
<line x1="57.00" y1="73.10" x2="60.50" y2="73.10" stroke="#222" stroke-width="1"/>
<line x1="137.58" y1="136.00" x2="137.58" y2="138.60" stroke="#333" stroke-width="0.8"/>
<line x1="58.50" y1="63.66" x2="60.50" y2="63.66" stroke="#333" stroke-width="0.8"/>
<line x1="143.48" y1="136.00" x2="143.48" y2="138.60" stroke="#333" stroke-width="0.8"/>
<line x1="58.50" y1="58.14" x2="60.50" y2="58.14" stroke="#333" stroke-width="0.8"/>
<line x1="147.67" y1="136.00" x2="147.67" y2="138.60" stroke="#333" stroke-width="0.8"/>
<line x1="58.50" y1="54.23" x2="60.50" y2="54.23" stroke="#333" stroke-width="0.8"/>
<line x1="150.92" y1="136.00" x2="150.92" y2="138.60" stroke="#333" stroke-width="0.8"/>
<line x1="58.50" y1="51.19" x2="60.50" y2="51.19" stroke="#333" stroke-width="0.8"/>
<line x1="153.57" y1="136.00" x2="153.57" y2="138.60" stroke="#333" stroke-width="0.8"/>
<line x1="58.50" y1="48.70" x2="60.50" y2="48.70" stroke="#333" stroke-width="0.8"/>
<line x1="155.81" y1="136.00" x2="155.81" y2="138.60" stroke="#333" stroke-width="0.8"/>
<line x1="58.50" y1="46.61" x2="60.50" y2="46.61" stroke="#333" stroke-width="0.8"/>
<line x1="157.75" y1="136.00" x2="157.75" y2="138.60" stroke="#333" stroke-width="0.8"/>
<line x1="58.50" y1="44.79" x2="60.50" y2="44.79" stroke="#333" stroke-width="0.8"/>
<line x1="159.47" y1="136.00" x2="159.47" y2="138.60" stroke="#333" stroke-width="0.8"/>
<line x1="58.50" y1="43.18" x2="60.50" y2="43.18" stroke="#333" stroke-width="0.8"/>
<line x1="161.00" y1="136.00" x2="161.00" y2="139.00" stroke="#222" stroke-width="1"/>
<line x1="57.00" y1="41.75" x2="60.50" y2="41.75" stroke="#222" stroke-width="1"/>
<line x1="171.08" y1="136.00" x2="171.08" y2="138.60" stroke="#333" stroke-width="0.8"/>
<line x1="58.50" y1="32.31" x2="60.50" y2="32.31" stroke="#333" stroke-width="0.8"/>
<line x1="176.98" y1="136.00" x2="176.98" y2="138.60" stroke="#333" stroke-width="0.8"/>
<line x1="58.50" y1="26.79" x2="60.50" y2="26.79" stroke="#333" stroke-width="0.8"/>
<line x1="181.17" y1="136.00" x2="181.17" y2="138.60" stroke="#333" stroke-width="0.8"/>
<line x1="58.50" y1="22.88" x2="60.50" y2="22.88" stroke="#333" stroke-width="0.8"/>
<line x1="184.42" y1="136.00" x2="184.42" y2="138.60" stroke="#333" stroke-width="0.8"/>
<line x1="58.50" y1="19.84" x2="60.50" y2="19.84" stroke="#333" stroke-width="0.8"/>
<line x1="187.07" y1="136.00" x2="187.07" y2="138.60" stroke="#333" stroke-width="0.8"/>
<line x1="58.50" y1="17.35" x2="60.50" y2="17.35" stroke="#333" stroke-width="0.8"/>
<line x1="189.31" y1="136.00" x2="189.31" y2="138.60" stroke="#333" stroke-width="0.8"/>
<line x1="58.50" y1="15.26" x2="60.50" y2="15.26" stroke="#333" stroke-width="0.8"/>
<line x1="191.25" y1="136.00" x2="191.25" y2="138.60" stroke="#333" stroke-width="0.8"/>
<line x1="58.50" y1="13.44" x2="60.50" y2="13.44" stroke="#333" stroke-width="0.8"/>
<line x1="192.97" y1="136.00" x2="192.97" y2="138.60" stroke="#333" stroke-width="0.8"/>
<line x1="58.50" y1="11.83" x2="60.50" y2="11.83" stroke="#333" stroke-width="0.8"/>
<line x1="194.50" y1="136.00" x2="194.50" y2="139.00" stroke="#222" stroke-width="1"/>
<line x1="57.00" y1="10.40" x2="60.50" y2="10.40" stroke="#222" stroke-width="1"/>
<text x="51.6" y="138.20" font-size="6.4" text-anchor="end" fill="#222" stroke="#222" stroke-width="0.25">10</text>
<text x="51.9" y="135.20" font-size="4.6" fill="#222" stroke="#222" stroke-width="0.2">0</text>
<text x="62.50" y="148.50" font-size="6.4" text-anchor="end" fill="#222" stroke="#222" stroke-width="0.25">10</text>
<text x="62.80" y="145.70" font-size="4.6" fill="#222" stroke="#222" stroke-width="0.2">0</text>
<text x="51.6" y="106.85" font-size="6.4" text-anchor="end" fill="#222" stroke="#222" stroke-width="0.25">10</text>
<text x="51.9" y="103.85" font-size="4.6" fill="#222" stroke="#222" stroke-width="0.2">1</text>
<text x="96.00" y="148.50" font-size="6.4" text-anchor="end" fill="#222" stroke="#222" stroke-width="0.25">10</text>
<text x="96.30" y="145.70" font-size="4.6" fill="#222" stroke="#222" stroke-width="0.2">1</text>
<text x="51.6" y="75.50" font-size="6.4" text-anchor="end" fill="#222" stroke="#222" stroke-width="0.25">10</text>
<text x="51.9" y="72.50" font-size="4.6" fill="#222" stroke="#222" stroke-width="0.2">2</text>
<text x="129.50" y="148.50" font-size="6.4" text-anchor="end" fill="#222" stroke="#222" stroke-width="0.25">10</text>
<text x="129.80" y="145.70" font-size="4.6" fill="#222" stroke="#222" stroke-width="0.2">2</text>
<text x="51.6" y="44.15" font-size="6.4" text-anchor="end" fill="#222" stroke="#222" stroke-width="0.25">10</text>
<text x="51.9" y="41.15" font-size="4.6" fill="#222" stroke="#222" stroke-width="0.2">3</text>
<text x="163.00" y="148.50" font-size="6.4" text-anchor="end" fill="#222" stroke="#222" stroke-width="0.25">10</text>
<text x="163.30" y="145.70" font-size="4.6" fill="#222" stroke="#222" stroke-width="0.2">3</text>
<text x="51.6" y="12.80" font-size="6.4" text-anchor="end" fill="#222" stroke="#222" stroke-width="0.25">10</text>
<text x="51.9" y="9.80" font-size="4.6" fill="#222" stroke="#222" stroke-width="0.2">4</text>
<text x="196.50" y="148.50" font-size="6.4" text-anchor="end" fill="#222" stroke="#222" stroke-width="0.25">10</text>
<text x="196.80" y="145.70" font-size="4.6" fill="#222" stroke="#222" stroke-width="0.2">4</text>
<text x="63.30" y="22.50" font-size="10">2.5%</text>
<text x="194.40" y="22.50" font-size="10" text-anchor="end">92.5%</text>
<text x="62.60" y="135.20" font-size="9.3" textLength="28.2" lengthAdjust="spacingAndGlyphs">4.86%</text>
<line x1="37.60" y1="116.60" x2="37.60" y2="13.00" stroke="#777" stroke-width="1.2"/>
<path d="M37.6 8.8 L41 14.6 L34.2 14.6 Z" fill="#000"/>
<text x="40.60" y="152.60" font-size="12.2" textLength="30.0" lengthAdjust="spacingAndGlyphs" transform="rotate(-90 40.60 152.60)">CD27</text>
<text x="54.30" y="159.80" font-size="12.0" textLength="30.3" lengthAdjust="spacingAndGlyphs">CD28</text>
<line x1="91.00" y1="155.70" x2="194.00" y2="155.70" stroke="#666" stroke-width="1.2"/>
<path d="M199.4 155.7 L193.4 152.3 L193.4 159.1 Z" fill="#000"/>
<line x1="289.60" y1="10.30" x2="289.60" y2="157.50" stroke="#333" stroke-width="1.1"/>
<line x1="289.60" y1="157.50" x2="510.00" y2="157.50" stroke="#333" stroke-width="1.1"/>
<line x1="285.10" y1="157.50" x2="289.60" y2="157.50" stroke="#333" stroke-width="1.2"/>
<text x="284.30" y="161.10" font-size="10.3" text-anchor="end" textLength="5.45" lengthAdjust="spacingAndGlyphs" fill="#222">0</text>
<line x1="285.10" y1="120.70" x2="289.60" y2="120.70" stroke="#333" stroke-width="1.2"/>
<text x="284.30" y="124.30" font-size="10.3" text-anchor="end" textLength="10.9" lengthAdjust="spacingAndGlyphs" fill="#222">25</text>
<line x1="285.10" y1="83.90" x2="289.60" y2="83.90" stroke="#333" stroke-width="1.2"/>
<text x="284.30" y="87.50" font-size="10.3" text-anchor="end" textLength="10.9" lengthAdjust="spacingAndGlyphs" fill="#222">50</text>
<line x1="285.10" y1="47.10" x2="289.60" y2="47.10" stroke="#333" stroke-width="1.2"/>
<text x="284.30" y="50.70" font-size="10.3" text-anchor="end" textLength="10.9" lengthAdjust="spacingAndGlyphs" fill="#222">75</text>
<line x1="285.10" y1="10.30" x2="289.60" y2="10.30" stroke="#333" stroke-width="1.2"/>
<text x="284.30" y="13.90" font-size="10.3" text-anchor="end" textLength="16.35" lengthAdjust="spacingAndGlyphs" fill="#222">100</text>
<line x1="289.80" y1="157.50" x2="289.80" y2="161.80" stroke="#333" stroke-width="1.2"/>
<text x="289.80" y="172.60" font-size="10" text-anchor="middle" fill="#222">0</text>
<line x1="311.82" y1="157.50" x2="311.82" y2="161.80" stroke="#333" stroke-width="1.2"/>
<text x="311.82" y="172.60" font-size="10" text-anchor="middle" fill="#222">10</text>
<line x1="333.84" y1="157.50" x2="333.84" y2="161.80" stroke="#333" stroke-width="1.2"/>
<text x="333.84" y="172.60" font-size="10" text-anchor="middle" fill="#222">20</text>
<line x1="355.86" y1="157.50" x2="355.86" y2="161.80" stroke="#333" stroke-width="1.2"/>
<text x="355.86" y="172.60" font-size="10" text-anchor="middle" fill="#222">30</text>
<line x1="377.88" y1="157.50" x2="377.88" y2="161.80" stroke="#333" stroke-width="1.2"/>
<text x="377.88" y="172.60" font-size="10" text-anchor="middle" fill="#222">40</text>
<line x1="399.90" y1="157.50" x2="399.90" y2="161.80" stroke="#333" stroke-width="1.2"/>
<text x="399.90" y="172.60" font-size="10" text-anchor="middle" fill="#222">50</text>
<line x1="421.92" y1="157.50" x2="421.92" y2="161.80" stroke="#333" stroke-width="1.2"/>
<text x="421.92" y="172.60" font-size="10" text-anchor="middle" fill="#222">60</text>
<line x1="443.94" y1="157.50" x2="443.94" y2="161.80" stroke="#333" stroke-width="1.2"/>
<text x="443.94" y="172.60" font-size="10" text-anchor="middle" fill="#222">70</text>
<line x1="465.96" y1="157.50" x2="465.96" y2="161.80" stroke="#333" stroke-width="1.2"/>
<text x="465.96" y="172.60" font-size="10" text-anchor="middle" fill="#222">80</text>
<line x1="487.98" y1="157.50" x2="487.98" y2="161.80" stroke="#333" stroke-width="1.2"/>
<text x="487.98" y="172.60" font-size="10" text-anchor="middle" fill="#222">90</text>
<line x1="510.00" y1="157.50" x2="510.00" y2="161.80" stroke="#333" stroke-width="1.2"/>
<text x="510.00" y="172.60" font-size="10" text-anchor="middle" fill="#222">100</text>
<line x1="311.20" y1="151.20" x2="509.00" y2="37.10" stroke="#222" stroke-width="1.2"/>
<path d="M336.2 108.1l3.1 3.1l-3.1 3.1l-3.1-3.1zM345.2 105.4l3.1 3.1l-3.1 3.1l-3.1-3.1zM353.7 92.0l3.1 3.1l-3.1 3.1l-3.1-3.1zM354.1 94.4l3.1 3.1l-3.1 3.1l-3.1-3.1zM358.4 93.1l3.1 3.1l-3.1 3.1l-3.1-3.1zM365.1 101.5l3.1 3.1l-3.1 3.1l-3.1-3.1zM354.1 117.9l3.1 3.1l-3.1 3.1l-3.1-3.1zM369.4 119.5l3.1 3.1l-3.1 3.1l-3.1-3.1zM376.1 115.7l3.1 3.1l-3.1 3.1l-3.1-3.1zM382.7 123.6l3.1 3.1l-3.1 3.1l-3.1-3.1zM382.7 130.0l3.1 3.1l-3.1 3.1l-3.1-3.1zM389.3 120.2l3.1 3.1l-3.1 3.1l-3.1-3.1zM396.1 113.4l3.1 3.1l-3.1 3.1l-3.1-3.1zM340.5 134.2l3.1 3.1l-3.1 3.1l-3.1-3.1zM349.1 131.3l3.1 3.1l-3.1 3.1l-3.1-3.1zM347.4 134.2l3.1 3.1l-3.1 3.1l-3.1-3.1zM336.4 140.5l3.1 3.1l-3.1 3.1l-3.1-3.1zM345.1 140.1l3.1 3.1l-3.1 3.1l-3.1-3.1zM356.3 140.9l3.1 3.1l-3.1 3.1l-3.1-3.1zM349.3 144.6l3.1 3.1l-3.1 3.1l-3.1-3.1zM353.9 145.5l3.1 3.1l-3.1 3.1l-3.1-3.1zM364.6 144.0l3.1 3.1l-3.1 3.1l-3.1-3.1zM340.6 151.7l3.1 3.1l-3.1 3.1l-3.1-3.1zM389.6 61.2l3.1 3.1l-3.1 3.1l-3.1-3.1zM415.8 142.3l3.1 3.1l-3.1 3.1l-3.1-3.1zM424.7 98.9l3.1 3.1l-3.1 3.1l-3.1-3.1zM431.4 82.7l3.1 3.1l-3.1 3.1l-3.1-3.1zM446.7 104.7l3.1 3.1l-3.1 3.1l-3.1-3.1zM449.1 83.9l3.1 3.1l-3.1 3.1l-3.1-3.1zM418.3 63.4l3.1 3.1l-3.1 3.1l-3.1-3.1zM433.5 32.6l3.1 3.1l-3.1 3.1l-3.1-3.1zM444.6 53.1l3.1 3.1l-3.1 3.1l-3.1-3.1zM451.2 53.1l3.1 3.1l-3.1 3.1l-3.1-3.1zM455.8 64.8l3.1 3.1l-3.1 3.1l-3.1-3.1zM444.6 73.5l3.1 3.1l-3.1 3.1l-3.1-3.1zM451.2 39.8l3.1 3.1l-3.1 3.1l-3.1-3.1zM449.3 42.5l3.1 3.1l-3.1 3.1l-3.1-3.1zM460.1 36.9l3.1 3.1l-3.1 3.1l-3.1-3.1zM466.7 79.5l3.1 3.1l-3.1 3.1l-3.1-3.1zM462.3 88.3l3.1 3.1l-3.1 3.1l-3.1-3.1zM468.9 48.5l3.1 3.1l-3.1 3.1l-3.1-3.1zM482.4 38.5l3.1 3.1l-3.1 3.1l-3.1-3.1zM484.3 75.1l3.1 3.1l-3.1 3.1l-3.1-3.1z" fill="#000"/>
<text x="298.60" y="16.60" font-size="10.2" textLength="49.6" lengthAdjust="spacingAndGlyphs">R2 = 0.616</text>
<text x="298.4" y="29.5" font-size="10.4" fill="#111" textLength="49.5" lengthAdjust="spacing"><tspan font-style="italic">P</tspan> &lt; .0001</text>
<text x="373.30" y="187.40" font-size="12.4" textLength="64.3" lengthAdjust="spacingAndGlyphs">Age (years)</text>
<text x="258.90" y="163.90" font-size="11.8" textLength="163.1" lengthAdjust="spacingAndGlyphs" transform="rotate(-90 258.90 163.90)">%CD28-CD27- CD8+ T Cells</text>
<line x1="62.00" y1="207.50" x2="62.00" y2="355.20" stroke="#333" stroke-width="1.1"/>
<line x1="62.00" y1="355.20" x2="209.50" y2="355.20" stroke="#333" stroke-width="1.1"/>
<line x1="57.40" y1="355.20" x2="62.00" y2="355.20" stroke="#333" stroke-width="1.2"/>
<text x="56.60" y="358.80" font-size="10.3" text-anchor="end" textLength="5.45" lengthAdjust="spacingAndGlyphs" fill="#222">0</text>
<line x1="57.40" y1="330.58" x2="62.00" y2="330.58" stroke="#333" stroke-width="1.2"/>
<text x="56.60" y="334.18" font-size="10.3" text-anchor="end" textLength="5.45" lengthAdjust="spacingAndGlyphs" fill="#222">2</text>
<line x1="57.40" y1="305.96" x2="62.00" y2="305.96" stroke="#333" stroke-width="1.2"/>
<text x="56.60" y="309.56" font-size="10.3" text-anchor="end" textLength="5.45" lengthAdjust="spacingAndGlyphs" fill="#222">4</text>
<line x1="57.40" y1="281.34" x2="62.00" y2="281.34" stroke="#333" stroke-width="1.2"/>
<text x="56.60" y="284.94" font-size="10.3" text-anchor="end" textLength="5.45" lengthAdjust="spacingAndGlyphs" fill="#222">6</text>
<line x1="57.40" y1="256.72" x2="62.00" y2="256.72" stroke="#333" stroke-width="1.2"/>
<text x="56.60" y="260.32" font-size="10.3" text-anchor="end" textLength="5.45" lengthAdjust="spacingAndGlyphs" fill="#222">8</text>
<line x1="57.40" y1="232.10" x2="62.00" y2="232.10" stroke="#333" stroke-width="1.2"/>
<text x="56.60" y="235.70" font-size="10.3" text-anchor="end" textLength="10.9" lengthAdjust="spacingAndGlyphs" fill="#222">10</text>
<line x1="57.40" y1="207.48" x2="62.00" y2="207.48" stroke="#333" stroke-width="1.2"/>
<text x="56.60" y="211.08" font-size="10.3" text-anchor="end" textLength="10.9" lengthAdjust="spacingAndGlyphs" fill="#222">12</text>
<line x1="106.60" y1="355.20" x2="106.60" y2="360.00" stroke="#333" stroke-width="1.2"/>
<line x1="135.90" y1="355.20" x2="135.90" y2="360.00" stroke="#333" stroke-width="1.2"/>
<line x1="165.40" y1="355.20" x2="165.40" y2="360.00" stroke="#333" stroke-width="1.2"/>
<line x1="195.10" y1="355.20" x2="195.10" y2="360.00" stroke="#333" stroke-width="1.2"/>
<text x="79.80" y="362.70" font-size="10.6" text-anchor="end" textLength="55.5" lengthAdjust="spacingAndGlyphs" transform="rotate(-90 79.80 362.70)">Unstimulated</text>
<text x="110.50" y="363.60" font-size="10.6" text-anchor="end" textLength="24.7" lengthAdjust="spacingAndGlyphs" transform="rotate(-90 110.50 363.60)">CD8+</text>
<text x="138.10" y="363.10" font-size="10.6" text-anchor="end" textLength="57.4" lengthAdjust="spacingAndGlyphs" transform="rotate(-90 138.10 363.10)">CD28+CD27+</text>
<text x="169.60" y="363.30" font-size="10.6" text-anchor="end" textLength="55.7" lengthAdjust="spacingAndGlyphs" transform="rotate(-90 169.60 363.30)">CD28-CD27+</text>
<text x="198.40" y="364.60" font-size="10.6" text-anchor="end" textLength="52.8" lengthAdjust="spacingAndGlyphs" transform="rotate(-90 198.40 364.60)">CD28-CD27-</text>
<ellipse cx="67.8" cy="355.2" rx="2.75" ry="2.35" fill="none" stroke="#000" stroke-width="1.7"/>
<ellipse cx="77.0" cy="355.2" rx="2.75" ry="2.35" fill="none" stroke="#000" stroke-width="1.7"/>
<ellipse cx="85.9" cy="355.2" rx="2.75" ry="2.35" fill="none" stroke="#000" stroke-width="1.7"/>
<circle cx="106.6" cy="229.2" r="3.0" fill="#000"/>
<circle cx="106.6" cy="246.0" r="3.0" fill="#000"/>
<circle cx="106.6" cy="261.4" r="3.0" fill="#000"/>
<rect x="123.90" y="217.80" width="6.0" height="6.0" fill="#000"/>
<rect x="132.80" y="223.60" width="6.0" height="6.0" fill="#000"/>
<rect x="132.80" y="240.10" width="6.0" height="6.0" fill="#000"/>
<path d="M156.6 219.9l3.4 5.8h-6.8zM165.4 225.7l3.4 5.8h-6.8zM165.4 241.5l3.4 5.8h-6.8z" fill="#000"/>
<path d="M186.5 318.1l3.4 -5.8h-6.8zM195.1 321.7l3.4 -5.8h-6.8zM195.1 334.0l3.4 -5.8h-6.8z" fill="#000"/>
<line x1="93.40" y1="244.70" x2="118.60" y2="244.70" stroke="#111" stroke-width="1.8"/>
<line x1="123.10" y1="229.20" x2="147.70" y2="229.20" stroke="#111" stroke-width="1.8"/>
<line x1="152.30" y1="231.50" x2="177.40" y2="231.50" stroke="#111" stroke-width="1.8"/>
<line x1="182.30" y1="320.80" x2="206.90" y2="320.80" stroke="#111" stroke-width="1.8"/>
<line x1="96.30" y1="186.00" x2="202.50" y2="186.00" stroke="#707070" stroke-width="1.3"/>
<line x1="113.80" y1="199.20" x2="202.50" y2="199.20" stroke="#707070" stroke-width="1.3"/>
<line x1="147.00" y1="211.90" x2="204.30" y2="211.90" stroke="#707070" stroke-width="1.3"/>
<text x="123.4" y="183.5" font-size="10.8" fill="#111" textLength="35.3" lengthAdjust="spacing"><tspan font-style="italic">P</tspan> &lt; .01</text>
<text x="143.5" y="197.5" font-size="10.8" fill="#111" textLength="35.3" lengthAdjust="spacing"><tspan font-style="italic">P</tspan> &lt; .01</text>
<text x="165.6" y="210.2" font-size="10.8" fill="#111" textLength="35.3" lengthAdjust="spacing"><tspan font-style="italic">P</tspan> &lt; .01</text>
<text x="35.70" y="336.40" font-size="11.0" textLength="106.0" lengthAdjust="spacingAndGlyphs" transform="rotate(-90 35.70 336.40)">[3H] TdR (cpm 1e+4)</text>
<line x1="289.60" y1="207.00" x2="289.60" y2="354.40" stroke="#333" stroke-width="1.1"/>
<line x1="289.60" y1="354.40" x2="510.00" y2="354.40" stroke="#333" stroke-width="1.1"/>
<line x1="285.20" y1="354.40" x2="289.60" y2="354.40" stroke="#333" stroke-width="1.2"/>
<text x="284.40" y="358.00" font-size="10.3" text-anchor="end" textLength="5.45" lengthAdjust="spacingAndGlyphs" fill="#222">0</text>
<line x1="285.20" y1="324.92" x2="289.60" y2="324.92" stroke="#333" stroke-width="1.2"/>
<text x="284.40" y="328.52" font-size="10.3" text-anchor="end" textLength="5.45" lengthAdjust="spacingAndGlyphs" fill="#222">3</text>
<line x1="285.20" y1="295.44" x2="289.60" y2="295.44" stroke="#333" stroke-width="1.2"/>
<text x="284.40" y="299.04" font-size="10.3" text-anchor="end" textLength="5.45" lengthAdjust="spacingAndGlyphs" fill="#222">6</text>
<line x1="285.20" y1="265.96" x2="289.60" y2="265.96" stroke="#333" stroke-width="1.2"/>
<text x="284.40" y="269.56" font-size="10.3" text-anchor="end" textLength="5.45" lengthAdjust="spacingAndGlyphs" fill="#222">9</text>
<line x1="285.20" y1="236.48" x2="289.60" y2="236.48" stroke="#333" stroke-width="1.2"/>
<text x="284.40" y="240.08" font-size="10.3" text-anchor="end" textLength="10.9" lengthAdjust="spacingAndGlyphs" fill="#222">12</text>
<line x1="285.20" y1="206.99" x2="289.60" y2="206.99" stroke="#333" stroke-width="1.2"/>
<text x="284.40" y="210.59" font-size="10.3" text-anchor="end" textLength="10.9" lengthAdjust="spacingAndGlyphs" fill="#222">15</text>
<line x1="289.60" y1="354.40" x2="289.60" y2="358.70" stroke="#333" stroke-width="1.2"/>
<text x="289.60" y="369.80" font-size="10" text-anchor="middle" fill="#222">0</text>
<line x1="311.65" y1="354.40" x2="311.65" y2="358.70" stroke="#333" stroke-width="1.2"/>
<text x="311.65" y="369.80" font-size="10" text-anchor="middle" fill="#222">10</text>
<line x1="333.70" y1="354.40" x2="333.70" y2="358.70" stroke="#333" stroke-width="1.2"/>
<text x="333.70" y="369.80" font-size="10" text-anchor="middle" fill="#222">20</text>
<line x1="355.75" y1="354.40" x2="355.75" y2="358.70" stroke="#333" stroke-width="1.2"/>
<text x="355.75" y="369.80" font-size="10" text-anchor="middle" fill="#222">30</text>
<line x1="377.80" y1="354.40" x2="377.80" y2="358.70" stroke="#333" stroke-width="1.2"/>
<text x="377.80" y="369.80" font-size="10" text-anchor="middle" fill="#222">40</text>
<line x1="399.85" y1="354.40" x2="399.85" y2="358.70" stroke="#333" stroke-width="1.2"/>
<text x="399.85" y="369.80" font-size="10" text-anchor="middle" fill="#222">50</text>
<line x1="421.90" y1="354.40" x2="421.90" y2="358.70" stroke="#333" stroke-width="1.2"/>
<text x="421.90" y="369.80" font-size="10" text-anchor="middle" fill="#222">60</text>
<line x1="443.95" y1="354.40" x2="443.95" y2="358.70" stroke="#333" stroke-width="1.2"/>
<text x="443.95" y="369.80" font-size="10" text-anchor="middle" fill="#222">70</text>
<line x1="466.00" y1="354.40" x2="466.00" y2="358.70" stroke="#333" stroke-width="1.2"/>
<text x="466.00" y="369.80" font-size="10" text-anchor="middle" fill="#222">80</text>
<line x1="488.05" y1="354.40" x2="488.05" y2="358.70" stroke="#333" stroke-width="1.2"/>
<text x="488.05" y="369.80" font-size="10" text-anchor="middle" fill="#222">90</text>
<line x1="510.10" y1="354.40" x2="510.10" y2="358.70" stroke="#333" stroke-width="1.2"/>
<text x="510.10" y="369.80" font-size="10" text-anchor="middle" fill="#222">100</text>
<line x1="312.30" y1="237.70" x2="509.50" y2="316.20" stroke="#222" stroke-width="1.2"/>
<g fill="#000"><circle cx="345.4" cy="222.0" r="2.5"/><circle cx="341.1" cy="226.5" r="2.5"/><circle cx="341.1" cy="228.5" r="2.5"/><circle cx="343.1" cy="236.9" r="2.5"/><circle cx="345.8" cy="236.9" r="2.5"/><circle cx="343.4" cy="240.8" r="2.5"/><circle cx="343.1" cy="244.9" r="2.5"/><circle cx="341.1" cy="248.9" r="2.5"/><circle cx="360.8" cy="237.7" r="2.5"/><circle cx="352.0" cy="245.4" r="2.5"/><circle cx="347.7" cy="254.6" r="2.5"/><circle cx="356.5" cy="256.5" r="2.5"/><circle cx="365.4" cy="253.4" r="2.5"/><circle cx="363.1" cy="260.3" r="2.5"/><circle cx="369.7" cy="258.5" r="2.5"/><circle cx="343.1" cy="261.5" r="2.5"/><circle cx="345.7" cy="262.8" r="2.5"/><circle cx="334.3" cy="274.3" r="2.5"/><circle cx="347.7" cy="278.0" r="2.5"/><circle cx="356.5" cy="275.8" r="2.5"/><circle cx="369.7" cy="274.3" r="2.5"/><circle cx="380.8" cy="276.9" r="2.5"/><circle cx="360.8" cy="291.8" r="2.5"/><circle cx="405.1" cy="245.7" r="2.5"/><circle cx="396.2" cy="261.2" r="2.5"/><circle cx="398.5" cy="261.5" r="2.5"/><circle cx="400.8" cy="260.0" r="2.5"/><circle cx="422.8" cy="259.5" r="2.5"/><circle cx="398.5" cy="267.7" r="2.5"/><circle cx="409.5" cy="269.2" r="2.5"/><circle cx="400.8" cy="281.1" r="2.5"/><circle cx="407.4" cy="281.1" r="2.5"/><circle cx="412.0" cy="286.6" r="2.5"/><circle cx="420.8" cy="289.2" r="2.5"/><circle cx="425.4" cy="286.6" r="2.5"/><circle cx="416.2" cy="296.6" r="2.5"/><circle cx="433.8" cy="296.6" r="2.5"/><circle cx="447.2" cy="293.5" r="2.5"/><circle cx="447.2" cy="296.8" r="2.5"/><circle cx="447.2" cy="303.6" r="2.5"/><circle cx="425.1" cy="309.7" r="2.5"/><circle cx="462.7" cy="299.8" r="2.5"/><circle cx="471.5" cy="295.7" r="2.5"/><circle cx="473.8" cy="292.8" r="2.5"/><circle cx="482.6" cy="280.9" r="2.5"/><circle cx="491.5" cy="292.8" r="2.5"/><circle cx="469.2" cy="330.0" r="2.5"/></g>
<text x="463.00" y="217.50" font-size="10.2" textLength="49.0" lengthAdjust="spacingAndGlyphs">R2 = 0.582</text>
<text x="463.4" y="230.4" font-size="10.4" fill="#111" textLength="49.8" lengthAdjust="spacing"><tspan font-style="italic">P</tspan> &lt; .0001</text>
<text x="372.50" y="383.00" font-size="12.3" textLength="62.4" lengthAdjust="spacingAndGlyphs">Age (years)</text>
<text x="259.30" y="379.80" font-size="12.0" textLength="188.8" lengthAdjust="spacingAndGlyphs" transform="rotate(-90 259.30 379.80)">Telomere length CD8+ T cells (Kb)</text>
<line x1="61.80" y1="456.30" x2="61.80" y2="604.10" stroke="#333" stroke-width="1.1"/>
<line x1="61.80" y1="604.10" x2="160.50" y2="604.10" stroke="#333" stroke-width="1.1"/>
<line x1="57.40" y1="604.10" x2="61.80" y2="604.10" stroke="#333" stroke-width="1.2"/>
<text x="56.70" y="607.70" font-size="10.3" text-anchor="end" textLength="5.45" lengthAdjust="spacingAndGlyphs" fill="#222">0</text>
<line x1="57.40" y1="567.20" x2="61.80" y2="567.20" stroke="#333" stroke-width="1.2"/>
<text x="56.70" y="570.80" font-size="10.3" text-anchor="end" textLength="10.9" lengthAdjust="spacingAndGlyphs" fill="#222">10</text>
<line x1="57.40" y1="530.30" x2="61.80" y2="530.30" stroke="#333" stroke-width="1.2"/>
<text x="56.70" y="533.90" font-size="10.3" text-anchor="end" textLength="10.9" lengthAdjust="spacingAndGlyphs" fill="#222">20</text>
<line x1="57.40" y1="493.40" x2="61.80" y2="493.40" stroke="#333" stroke-width="1.2"/>
<text x="56.70" y="497.00" font-size="10.3" text-anchor="end" textLength="10.9" lengthAdjust="spacingAndGlyphs" fill="#222">30</text>
<line x1="57.40" y1="456.50" x2="61.80" y2="456.50" stroke="#333" stroke-width="1.2"/>
<text x="56.70" y="460.10" font-size="10.3" text-anchor="end" textLength="10.9" lengthAdjust="spacingAndGlyphs" fill="#222">40</text>
<line x1="78.30" y1="604.10" x2="78.30" y2="608.90" stroke="#333" stroke-width="1.2"/>
<line x1="111.00" y1="604.10" x2="111.00" y2="608.90" stroke="#333" stroke-width="1.2"/>
<line x1="144.30" y1="604.10" x2="144.30" y2="608.90" stroke="#333" stroke-width="1.2"/>
<text x="82.00" y="609.10" font-size="10.4" text-anchor="end" textLength="51.1" lengthAdjust="spacingAndGlyphs" transform="rotate(-90 82.00 609.10)">CD28+CD27+</text>
<text x="114.90" y="608.30" font-size="10.4" text-anchor="end" textLength="50.2" lengthAdjust="spacingAndGlyphs" transform="rotate(-90 114.90 608.30)">CD28-CD27+</text>
<text x="147.40" y="609.10" font-size="10.4" text-anchor="end" textLength="49.4" lengthAdjust="spacingAndGlyphs" transform="rotate(-90 147.40 609.10)">CD28-CD27-</text>
<rect x="75.60" y="472.50" width="6.0" height="6.0" fill="#000"/>
<rect x="75.80" y="501.90" width="6.0" height="6.0" fill="#000"/>
<rect x="75.80" y="527.80" width="6.0" height="6.0" fill="#000"/>
<path d="M102.3 483.2l3.4 5.8h-6.8zM111.1 490.8l3.4 5.8h-6.8zM111.1 512.7l3.4 5.8h-6.8z" fill="#000"/>
<path d="M135.3 570.7l3.4 -5.8h-6.8zM144.3 574.0l3.4 -5.8h-6.8zM144.3 589.0l3.4 -5.8h-6.8z" fill="#000"/>
<line x1="64.20" y1="502.60" x2="91.90" y2="502.60" stroke="#111" stroke-width="1.8"/>
<line x1="97.20" y1="497.80" x2="124.20" y2="497.80" stroke="#111" stroke-width="1.8"/>
<line x1="130.00" y1="573.90" x2="157.00" y2="573.90" stroke="#111" stroke-width="1.8"/>
<line x1="73.80" y1="451.60" x2="160.50" y2="451.60" stroke="#707070" stroke-width="1.3"/>
<line x1="103.40" y1="467.00" x2="161.50" y2="467.00" stroke="#707070" stroke-width="1.3"/>
<text x="101.0" y="447.6" font-size="10.8" fill="#111" textLength="35.3" lengthAdjust="spacing"><tspan font-style="italic">P</tspan> &lt; .01</text>
<text x="121.0" y="464.9" font-size="10.8" fill="#111" textLength="35.3" lengthAdjust="spacing"><tspan font-style="italic">P</tspan> &lt; .01</text>
<text x="38.00" y="623.20" font-size="12.5" textLength="184.3" lengthAdjust="spacingAndGlyphs" transform="rotate(-90 38.00 623.20)">Relative telomerase/500 Ki67+ cells</text>
</svg>
</body></html>
